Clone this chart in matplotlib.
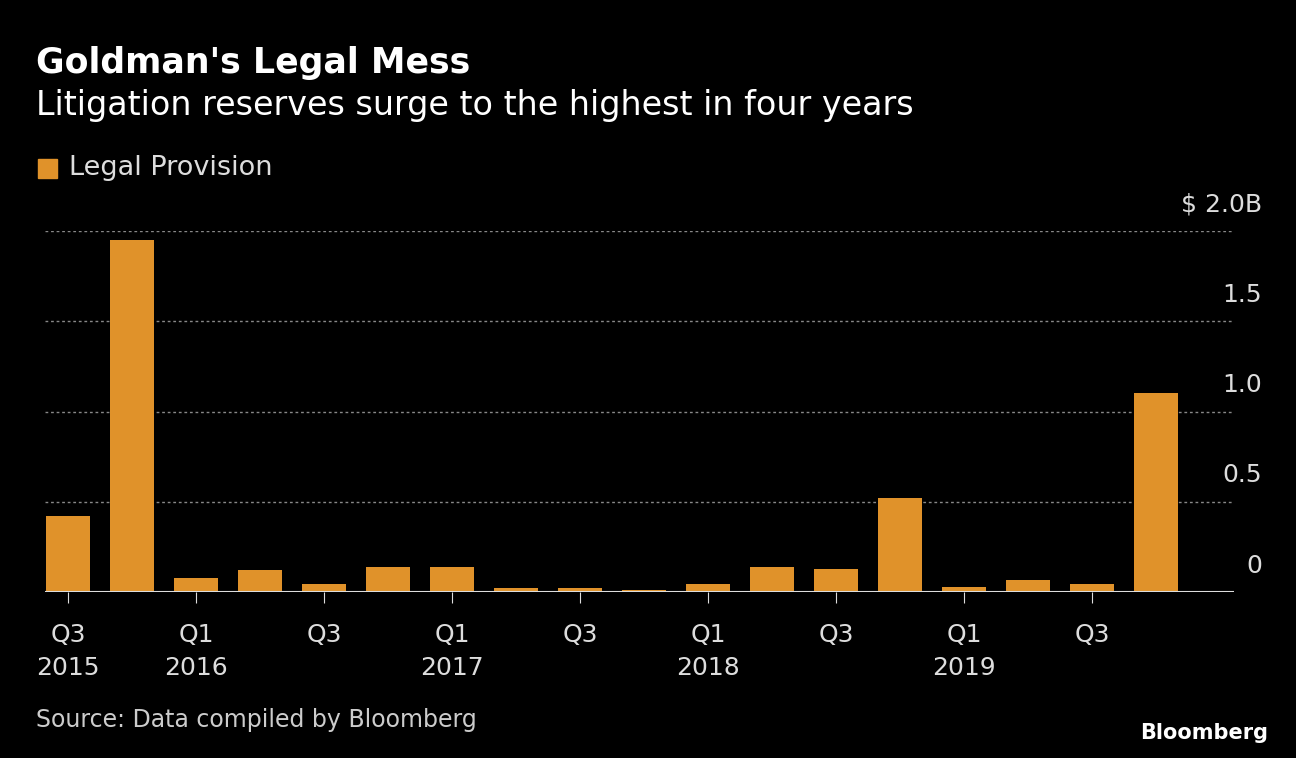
import matplotlib
matplotlib.use("Agg")
import matplotlib.pyplot as plt

quarters = ["Q3 2015","Q4 2015","Q1 2016","Q2 2016","Q3 2016","Q4 2016","Q1 2017","Q2 2017","Q3 2017",
            "Q4 2017","Q1 2018","Q2 2018","Q3 2018","Q4 2018","Q1 2019","Q2 2019","Q3 2019","Q4 2019"]
values = [0.42,1.95,0.08,0.12,0.045,0.14,0.14,0.02,0.02,0.01,0.045,0.14,0.13,0.52,0.03,0.065,0.045,1.10]
tick_pos = [0,2,4,6,8,10,12,14,16]
tick_labels = ["Q3\n2015","Q1\n2016","Q3","Q1\n2017","Q3","Q1\n2018","Q3","Q1\n2019","Q3"]
y_ticks = [0,0.5,1.0,1.5,2.0]
y_labels = ["0","0.5","1.0","1.5","$ 2.0B"]

W,H = 1296,758
fig = plt.figure(figsize=(W/100,H/100), dpi=100, facecolor="black")
ax = fig.add_axes([45/W, 1-592/H, (1234-45)/W, (592-231)/H], facecolor="black")
x = list(range(len(values)))
ax.bar(x, values, width=44/64, color="#E0922A", zorder=3)
ax.set_xlim(-(68-45)/64, (1234-68)/64)
ax.set_ylim(0, 2.0)
for t in y_ticks[1:]:
    ax.axhline(t, color="#888888", ls=(0,(2,2)), lw=1, zorder=1)
ax.axhline(0, color="#dddddd", lw=1.5, zorder=4)
for sp in ax.spines.values(): sp.set_visible(False)
ax.set_yticks([])
ax.set_xticks(tick_pos)
ax.set_xticklabels(tick_labels, color="#dddddd", fontsize=18, linespacing=1.5)
ax.tick_params(axis="x", length=8, color="#dddddd", pad=14)
for t,l in zip(y_ticks,y_labels):
    ax.text(1262/W, 1-(592-(t*180.5))/H + 0.019, l, transform=fig.transFigure, ha="right", va="bottom",
            color="#dddddd", fontsize=18)
fig.text(36/W, 1-63/H, "Goldman's Legal Mess", color="white", fontsize=25, fontweight="bold", va="center")
fig.text(36/W, 1-106/H, "Litigation reserves surge to the highest in four years", color="white", fontsize=24, va="center")
fig.patches.append(plt.Rectangle((38/W, 1-178/H), 19/W, 19/H, transform=fig.transFigure, color="#E0922A"))
fig.text(69/W, 1-168/H, "Legal Provision", color="#dddddd", fontsize=19.5, va="center")
fig.text(36/W, 1-720/H, "Source: Data compiled by Bloomberg", color="#cccccc", fontsize=17, va="center")
fig.text(1268/W, 1-733/H, "Bloomberg", color="white", fontsize=15, fontweight="bold", ha="right", va="center")
fig.savefig("out.png", dpi=100, facecolor="black")
